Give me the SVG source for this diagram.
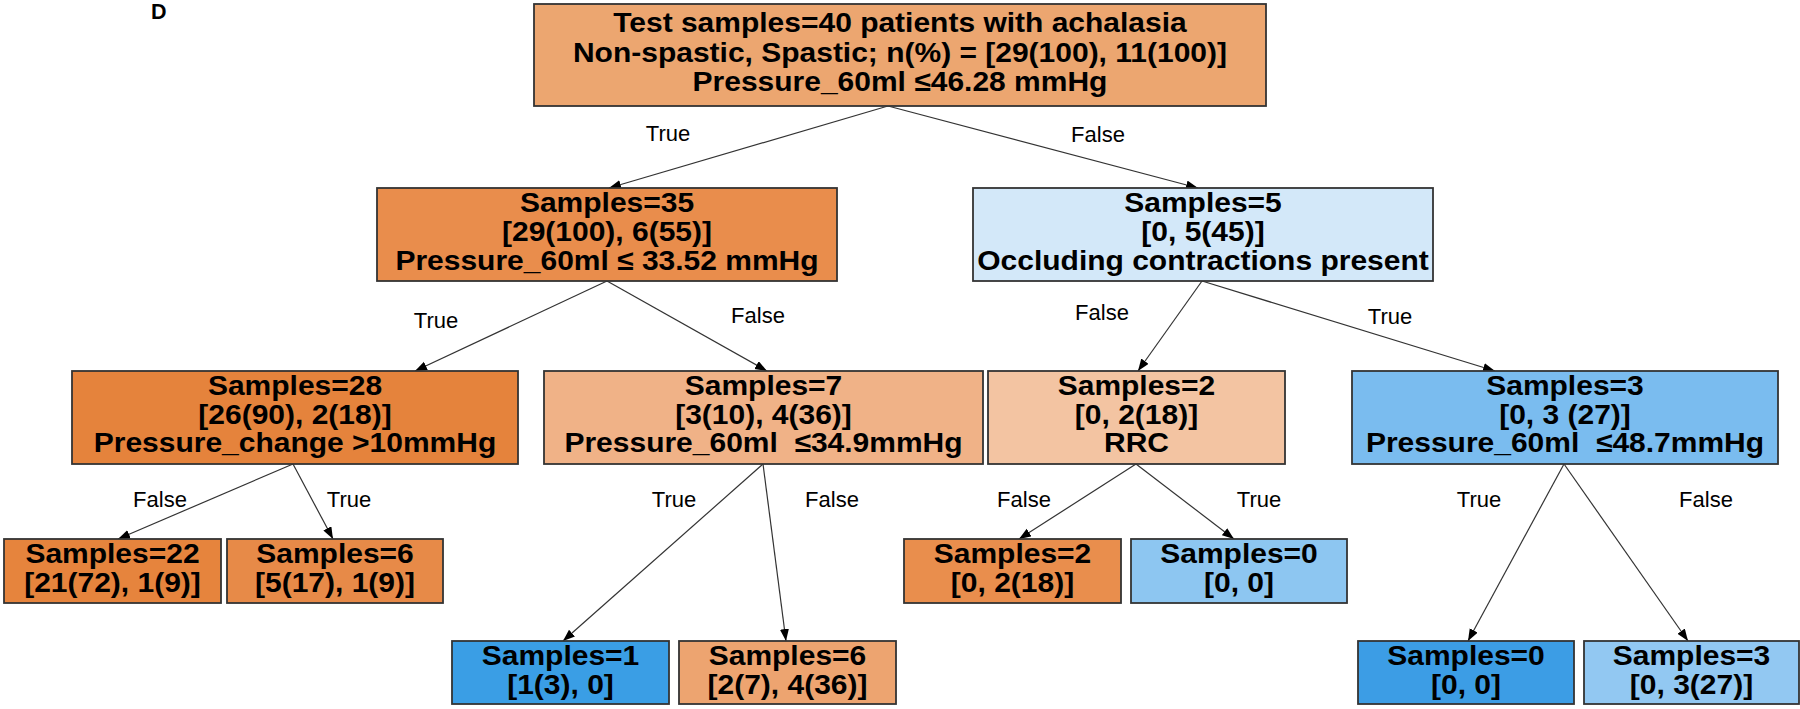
<svg xmlns="http://www.w3.org/2000/svg" width="1800" height="709" viewBox="0 0 1800 709">
<style>
.box{stroke:#333;stroke-width:1.8}
.nt{font-family:"Liberation Sans",Arial,sans-serif;font-weight:bold;font-size:28px;fill:#000;text-anchor:middle}
.el{font-family:"Liberation Sans",Arial,sans-serif;font-size:22px;fill:#000;text-anchor:middle}
.edge{stroke:#333;stroke-width:1.2;fill:none;marker-end:url(#arr)}
</style>
<defs>
<marker id="arr" markerUnits="userSpaceOnUse" markerWidth="13" markerHeight="10" refX="12" refY="4.5" orient="auto">
<path d="M0,0 L12,4.5 L0,9 z" fill="#000"/>
</marker>
</defs>
<rect width="1800" height="709" fill="#fff"/>
<text x="151" y="18.5" font-family="Liberation Sans, Arial, sans-serif" font-weight="bold" font-size="21.5">D</text>

<g id="connectors">
<line class="edge" x1="888" y1="106" x2="609" y2="188"/>
<line class="edge" x1="888" y1="106" x2="1198" y2="188"/>
<line class="edge" x1="607" y1="281" x2="415" y2="371"/>
<line class="edge" x1="607" y1="281" x2="767" y2="371"/>
<line class="edge" x1="1202" y1="281" x2="1138" y2="371"/>
<line class="edge" x1="1202" y1="281" x2="1495" y2="371"/>
<line class="edge" x1="293" y1="464" x2="118" y2="539"/>
<line class="edge" x1="293" y1="464" x2="333" y2="539"/>
<line class="edge" x1="763" y1="464" x2="563" y2="641"/>
<line class="edge" x1="763" y1="464" x2="786" y2="641"/>
<line class="edge" x1="1136" y1="464" x2="1019" y2="539"/>
<line class="edge" x1="1136" y1="464" x2="1234" y2="539"/>
<line class="edge" x1="1564" y1="464" x2="1468" y2="641"/>
<line class="edge" x1="1564" y1="464" x2="1688" y2="641"/>
<text class="el" x="668" y="141">True</text>
<text class="el" x="1098" y="142">False</text>
<text class="el" x="436" y="328">True</text>
<text class="el" x="758" y="323">False</text>
<text class="el" x="1102" y="320">False</text>
<text class="el" x="1390" y="324">True</text>
<text class="el" x="160" y="507">False</text>
<text class="el" x="349" y="507">True</text>
<text class="el" x="674" y="507">True</text>
<text class="el" x="832" y="507">False</text>
<text class="el" x="1024" y="507">False</text>
<text class="el" x="1259" y="507">True</text>
<text class="el" x="1479" y="507">True</text>
<text class="el" x="1706" y="507">False</text>
</g>

<g id="root">
<rect class="box" x="534" y="4" width="732" height="102" fill="#eca670"/>
<text class="nt" transform="matrix(1.0714 0 0 1 -64.29 0)"><tspan x="900" y="32">Test samples=40 patients with achalasia</tspan><tspan x="900" y="62">Non-spastic, Spastic; n(%) = [29(100), 11(100)]</tspan><tspan x="900" y="91">Pressure_60ml ≤46.28 mmHg</tspan></text>
</g>

<g id="n35">
<rect class="box" x="377" y="188" width="460" height="93" fill="#e98d4c"/>
<text class="nt" transform="matrix(1.0714 0 0 1 -43.34 0)"><tspan x="607" y="212">Samples=35</tspan><tspan x="607" y="241">[29(100), 6(55)]</tspan><tspan x="607" y="270">Pressure_60ml ≤ 33.52 mmHg</tspan></text>
</g>

<g id="n5">
<rect class="box" x="973" y="188" width="460" height="93" fill="#d3e8f9"/>
<text class="nt" transform="matrix(1.0714 0 0 1 -85.89 0)"><tspan x="1203" y="212">Samples=5</tspan><tspan x="1203" y="241">[0, 5(45)]</tspan><tspan x="1203" y="270">Occluding contractions present</tspan></text>
</g>

<g id="n28">
<rect class="box" x="72" y="371" width="446" height="93" fill="#e5833c"/>
<text class="nt" transform="matrix(1.0714 0 0 1 -21.06 0)"><tspan x="295" y="395">Samples=28</tspan><tspan x="295" y="424">[26(90), 2(18)]</tspan><tspan x="295" y="452">Pressure_change &gt;10mmHg</tspan></text>
</g>

<g id="n7">
<rect class="box" x="544" y="371" width="439" height="93" fill="#f0b287"/>
<text class="nt" xml:space="preserve" transform="matrix(1.0714 0 0 1 -54.51 0)"><tspan x="763.5" y="395">Samples=7</tspan><tspan x="763.5" y="424">[3(10), 4(36)]</tspan><tspan x="763.5" y="452">Pressure_60ml  ≤34.9mmHg</tspan></text>
</g>

<g id="n2rrc">
<rect class="box" x="988" y="371" width="297" height="93" fill="#f3c4a2"/>
<text class="nt" transform="matrix(1.0714 0 0 1 -81.15 0)"><tspan x="1136.5" y="395">Samples=2</tspan><tspan x="1136.5" y="424">[0, 2(18)]</tspan><tspan x="1136.5" y="452">RRC</tspan></text>
</g>

<g id="n3">
<rect class="box" x="1352" y="371" width="426" height="93" fill="#7abcef"/>
<text class="nt" xml:space="preserve" transform="matrix(1.0714 0 0 1 -111.74 0)"><tspan x="1565" y="395">Samples=3</tspan><tspan x="1565" y="424">[0, 3 (27)]</tspan><tspan x="1565" y="452">Pressure_60ml  ≤48.7mmHg</tspan></text>
</g>

<g id="n22">
<rect class="box" x="4" y="539" width="217" height="64" fill="#e6843d"/>
<text class="nt" transform="matrix(1.0714 0 0 1 -8.03 0)"><tspan x="112.5" y="563">Samples=22</tspan><tspan x="112.5" y="592">[21(72), 1(9)]</tspan></text>
</g>

<g id="n6a">
<rect class="box" x="227" y="539" width="216" height="64" fill="#e78a48"/>
<text class="nt" transform="matrix(1.0714 0 0 1 -23.92 0)"><tspan x="335" y="563">Samples=6</tspan><tspan x="335" y="592">[5(17), 1(9)]</tspan></text>
</g>

<g id="n2">
<rect class="box" x="904" y="539" width="217" height="64" fill="#e98e4d"/>
<text class="nt" transform="matrix(1.0714 0 0 1 -72.29 0)"><tspan x="1012.5" y="563">Samples=2</tspan><tspan x="1012.5" y="592">[0, 2(18)]</tspan></text>
</g>

<g id="n0a">
<rect class="box" x="1131" y="539" width="216" height="64" fill="#8dc6f1"/>
<text class="nt" transform="matrix(1.0714 0 0 1 -88.46 0)"><tspan x="1239" y="563">Samples=0</tspan><tspan x="1239" y="592">[0, 0]</tspan></text>
</g>

<g id="n1">
<rect class="box" x="452" y="641" width="217" height="63" fill="#3a9ee5"/>
<text class="nt" transform="matrix(1.0714 0 0 1 -40.02 0)"><tspan x="560.5" y="665">Samples=1</tspan><tspan x="560.5" y="694">[1(3), 0]</tspan></text>
</g>

<g id="n6b">
<rect class="box" x="679" y="641" width="217" height="63" fill="#eda470"/>
<text class="nt" transform="matrix(1.0714 0 0 1 -56.23 0)"><tspan x="787.5" y="665">Samples=6</tspan><tspan x="787.5" y="694">[2(7), 4(36)]</tspan></text>
</g>

<g id="n0b">
<rect class="box" x="1358" y="641" width="216" height="63" fill="#3c9de5"/>
<text class="nt" transform="matrix(1.0714 0 0 1 -104.67 0)"><tspan x="1466" y="665">Samples=0</tspan><tspan x="1466" y="694">[0, 0]</tspan></text>
</g>

<g id="n3b">
<rect class="box" x="1584" y="641" width="215" height="63" fill="#92c8f2"/>
<text class="nt" transform="matrix(1.0714 0 0 1 -120.77 0)"><tspan x="1691.5" y="665">Samples=3</tspan><tspan x="1691.5" y="694">[0, 3(27)]</tspan></text>
</g>
</svg>
